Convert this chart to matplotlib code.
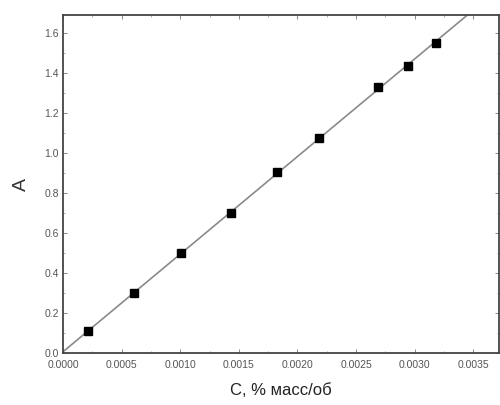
import numpy as np
import matplotlib
matplotlib.use('Agg')
import matplotlib.pyplot as plt
from matplotlib.ticker import MultipleLocator, FormatStrFormatter

plt.rcParams['font.family'] = ['Liberation Sans', 'DejaVu Sans']

# данные калибровки
conc = [0.00021, 0.00061, 0.00101, 0.00143, 0.00183, 0.00218, 0.00269, 0.00294, 0.00318]
absorb = [0.11, 0.30, 0.50, 0.70, 0.905, 1.075, 1.33, 1.435, 1.55]

k, b = np.polyfit(conc, absorb, 1)
xx = np.array([0.0, 0.0038])

fig = plt.figure(figsize=(5, 4.05), dpi=100)
ax = fig.add_axes([0.126, 0.128, 0.872, 0.835])

ax.plot(xx, k * xx + b, color='#8a8a8a', lw=1.2, zorder=1)
ax.plot(conc, absorb, 's', color='black', ms=5.5, zorder=2)

ax.set_xlim(0, 0.00372)
ax.set_ylim(0, 1.69)
ax.xaxis.set_major_locator(MultipleLocator(0.0005))
ax.xaxis.set_minor_locator(MultipleLocator(0.00025))
ax.yaxis.set_major_locator(MultipleLocator(0.2))
ax.yaxis.set_minor_locator(MultipleLocator(0.1))
ax.xaxis.set_major_formatter(FormatStrFormatter('%.4f'))
ax.yaxis.set_major_formatter(FormatStrFormatter('%.1f'))

ax.tick_params(which='both', direction='in', top=True, right=True,
               labelsize=7.5, labelcolor='#555555', color='#888888')
ax.tick_params(which='major', length=3, width=0.7, pad=3)
ax.tick_params(axis='x', which='major', pad=5)
ax.tick_params(which='minor', length=1.5, width=0.5)
for s in ax.spines.values():
    s.set_color('#444444')
    s.set_linewidth(1.3)

ax.set_xlabel('C, % масс/об', fontsize=12, color='#222222', labelpad=9)
ax.set_ylabel('A', fontsize=14, color='#333333', labelpad=10)

fig.savefig('out.png', dpi=100)
